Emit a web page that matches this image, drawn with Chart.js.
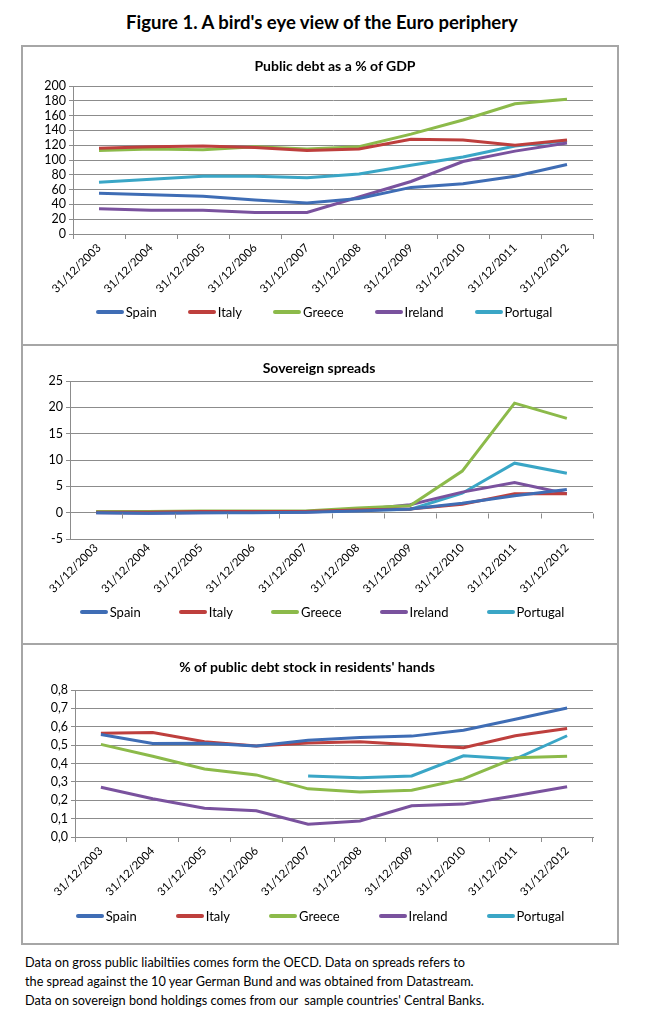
<!DOCTYPE html>
<html>
<head>
<meta charset="utf-8">
<script src="https://cdn.jsdelivr.net/npm/chart.js@4.4.1/dist/chart.umd.min.js"></script>
<style>
  body { margin: 0; background: #fff; width: 661px; height: 1024px; position: relative; font-family: Lato, "Liberation Sans", sans-serif; color: #000; }
  h1 { position: absolute; top: 10px; left: 0; width: 644px; margin: 0; text-align: center; font-size: 18.5px; font-weight: bold; line-height: 24px; }
  .panel { position: absolute; left: 21px; width: 598px; box-sizing: border-box; border: 2px solid #a6a6a6; background: #fff; }
  .wrap { position: absolute; left: 0; top: 0; width: 100%; height: 100%; }
  .ptitle { position: absolute; width: 500px; text-align: center; font-size: 14px; font-weight: bold; line-height: 18px; }
  .legend { position: absolute; width: 600px; height: 18px; display: flex; justify-content: center; font-size: 13px; line-height: 18px; }
  .legend span.item { display: flex; align-items: center; }
  .legend span.swatch { display: inline-block; width: 28px; height: 3.5px; border-radius: 2px; margin-right: 2px; }
  .note { position: absolute; left: 25px; top: 953px; font-size: 12.7px; line-height: 19px; }
</style>
</head>
<body>
<h1>Figure 1. A bird's eye view of the Euro periphery</h1>
<div class="panel" style="top:45px;height:301px"><div class="wrap"><canvas id="debtChart"></canvas></div></div>
<div class="panel" style="top:344px;height:301px"><div class="wrap"><canvas id="spreadChart"></canvas></div></div>
<div class="panel" style="top:643px;height:302px"><div class="wrap"><canvas id="residentChart"></canvas></div></div>
<div class="note">
  Data on gross public liabiltiies comes form the OECD. Data on spreads refers to<br>
  the spread against the 10 year German Bund and was obtained from Datastream.<br>
  Data on sovereign bond holdings comes from our&nbsp; sample countries' Central Banks.
</div>
<script>
const dates = ["31/12/2003", "31/12/2004", "31/12/2005", "31/12/2006", "31/12/2007",
  "31/12/2008", "31/12/2009", "31/12/2010", "31/12/2011", "31/12/2012"];
const countries = ["Spain", "Italy", "Greece", "Ireland", "Portugal"];
const colors = ["#3f6db5", "#be3f3d", "#8cba4a", "#7a529e", "#3aa6c6"];

// public debt, % of GDP
const debtSpain = [55, 53, 51, 46, 42, 48, 63, 68, 78, 94];
const debtItaly = [116, 118, 119, 117, 113, 115, 128, 127, 120, 127];
const debtGreece = [113, 115, 114, 118, 115, 118, 135, 154, 176, 182];
const debtIreland = [34, 32, 32, 29, 29, 50, 71, 98, 112, 123];
const debtPortugal = [70, 74, 78, 78, 76, 81, 93, 104, 119, 126];

// spread vs 10y Bund
const spreadSpain = [0, -0.1, 0, 0, 0.1, 0.3, 0.7, 1.8, 3.2, 4.4];
const spreadItaly = [0.1, 0.1, 0.2, 0.2, 0.2, 0.5, 0.7, 1.6, 3.6, 3.6];
const spreadGreece = [0.2, 0.2, 0.3, 0.3, 0.3, 0.9, 1.3, 7.9, 20.8, 17.9];
const spreadIreland = [0, -0.1, 0, 0.1, 0.1, 0.5, 1.5, 3.9, 5.7, 3.6];
const spreadPortugal = [0.1, 0.1, 0.1, 0.2, 0.2, 0.5, 0.6, 3.7, 9.4, 7.5];

// share of public debt held by residents
const resSpain = [0.558, 0.509, 0.51, 0.495, 0.527, 0.542, 0.549, 0.581, 0.641, 0.702];
const resItaly = [0.565, 0.569, 0.518, 0.495, 0.511, 0.518, 0.502, 0.486, 0.551, 0.59];
const resGreece = [0.504, 0.439, 0.37, 0.338, 0.262, 0.245, 0.255, 0.316, 0.431, 0.439];
const resIreland = [0.271, 0.208, 0.157, 0.143, 0.069, 0.087, 0.17, 0.179, 0.224, 0.274];
const resPortugal = [null, null, null, null, 0.332, 0.323, 0.332, 0.442, 0.424, 0.551];

Chart.defaults.font.family = "Lato, 'Liberation Sans', sans-serif";
Chart.defaults.color = "#000";

const gridColor = "#8c8c8c";

// small tick marks on the zero line (category axis crosses at 0)
const zeroTicks = {
  id: "zeroTicks",
  afterDraw(chart, args, opts) {
    if (!opts.on) return;
    const x = chart.scales.x, y = chart.scales.y;
    const y0 = Math.round(y.getPixelForValue(0)) + 0.5;
    const ctx = chart.ctx;
    ctx.save();
    ctx.strokeStyle = gridColor;
    ctx.lineWidth = 1;
    ctx.beginPath();
    for (let i = 0; i <= dates.length; i++) {
      const px = Math.round(x.getPixelForValue(i - 0.5)) + 0.5;
      ctx.moveTo(px, y0);
      ctx.lineTo(px, y0 + 5);
    }
    ctx.stroke();
    ctx.restore();
  },
};

// panel title and legend as html, inside the panel border
function addText(canvasId, title, box) {
  const wrap = document.getElementById(canvasId).parentNode;
  const t = document.createElement("div");
  t.className = "ptitle";
  t.textContent = title;
  t.style.left = (box.titleX - 23 - 250) + "px";
  t.style.top = (box.titleY - 9) + "px";
  wrap.appendChild(t);

  const lg = document.createElement("div");
  lg.className = "legend";
  lg.style.left = (box.legendX - 23 - 300) + "px";
  lg.style.top = (box.legendY - 9) + "px";
  lg.style.gap = box.legendGap + "px";
  countries.forEach((name, i) => {
    const item = document.createElement("span");
    item.className = "item";
    const sw = document.createElement("span");
    sw.className = "swatch";
    sw.style.background = colors[i];
    item.appendChild(sw);
    item.appendChild(document.createTextNode(name));
    lg.appendChild(item);
  });
  wrap.appendChild(lg);
}

function makeChart(id, title, series, yScale, box) {
  addText(id, title, box);
  return new Chart(document.getElementById(id), {
    type: "line",
    data: {
      labels: dates,
      datasets: countries.map((name, i) => ({
        label: name,
        data: series[i],
        borderColor: colors[i],
        backgroundColor: colors[i],
        borderWidth: 3,
        pointRadius: 0,
        tension: 0,
        spanGaps: false,
      })),
    },
    options: {
      responsive: true,
      maintainAspectRatio: false,
      animation: false,
      layout: { padding: { left: 0, right: 24, bottom: 0, top: box.plotTop } },
      plugins: {
        legend: { display: false },
        tooltip: { enabled: false },
        zeroTicks: { on: !!box.zeroTicks },
      },
      scales: {
        x: {
          offset: true,
          grid: {
            offset: true,
            drawOnChartArea: false,
            drawTicks: !box.zeroTicks,
            tickLength: 5,
            color: gridColor,
          },
          border: { color: gridColor },
          ticks: { maxRotation: 45, minRotation: 45, autoSkip: false, font: { size: 11.5 }, padding: 2 },
          afterFit: (s) => { s.height = box.xHeight; },
        },
        y: {
          min: yScale.min,
          max: yScale.max,
          grid: { color: gridColor, tickLength: 4 },
          border: { color: gridColor },
          ticks: {
            stepSize: yScale.step,
            autoSkip: false,
            font: { size: 12.5 },
            padding: 3,
            callback: yScale.fmt,
          },
          afterFit: (s) => { s.width = box.yWidth; },
        },
      },
    },
    plugins: [zeroTicks],
  });
}

makeChart("debtChart", "Public debt as a % of GDP",
  [debtSpain, debtItaly, debtGreece, debtIreland, debtPortugal],
  { min: 0, max: 200, step: 20, fmt: (v) => v },
  { plotTop: 39, xHeight: 110, yWidth: 50, titleX: 335, titleY: 66 - 47,
    legendX: 324, legendY: 312 - 47, legendGap: 31 });

makeChart("spreadChart", "Sovereign spreads",
  [spreadSpain, spreadItaly, spreadGreece, spreadIreland, spreadPortugal],
  { min: -5, max: 25, step: 5, fmt: (v) => v },
  { plotTop: 35, xHeight: 104, yWidth: 47, titleX: 319, titleY: 368 - 346,
    legendX: 322, legendY: 612 - 346, legendGap: 38, zeroTicks: true });

makeChart("residentChart", "% of public debt stock in residents' hands",
  [resSpain, resItaly, resGreece, resIreland, resPortugal],
  { min: 0, max: 0.8, step: 0.1, fmt: (v) => v.toFixed(1).replace(".", ",") },
  { plotTop: 45, xHeight: 106, yWidth: 52, titleX: 307, titleY: 667 - 645,
    legendX: 320, legendY: 916 - 645, legendGap: 39 });
</script>
</body>
</html>
